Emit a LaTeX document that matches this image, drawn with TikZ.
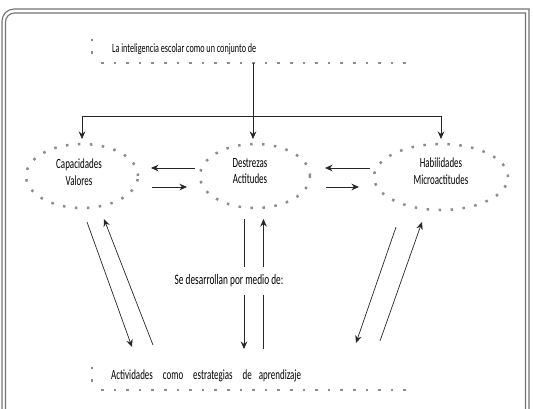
\documentclass[tikz,border=0pt]{standalone}
\usepackage{fontspec}
\setmainfont{Carlito}[FakeStretch=0.64]
\usetikzlibrary{shapes.geometric,arrows.meta}
\begin{document}
\begin{tikzpicture}[x=1pt,y=-1pt,
  frameline/.style={draw=black!55,line width=1.1pt},
  dotline/.style={draw=black!45,line width=2.5pt,dash pattern=on 2.5pt off 10.1pt},
  dotell/.style={ellipse,draw=black!45,line width=2.5pt,dash pattern=on 2.5pt off 9.5pt,inner sep=0pt},
  lbl/.style={font=\fontsize{14}{15.5}\selectfont,align=center,inner sep=0pt},
  conn/.style={draw=black!85,line width=0.7pt},
  arr/.style={conn,-{Stealth[length=7.5pt,width=6.5pt]}},
  cdot/.style={fill=black!45,minimum size=2.5pt,inner sep=0pt}
]
\useasboundingbox (0,0) rectangle (533,408);
% frame
\draw[frameline] (2,410) -- (2,21) .. controls (2,14.4) and (7.4,9) .. (14,9) -- (529,9) -- (529,410);
\draw[frameline] (5.5,410) -- (5.5,22) .. controls (5.5,17) and (9.5,13) .. (14.5,13) -- (525.5,13) -- (525.5,410);

% title
\node[cdot] (c1) at (92,40) {};
\node[cdot] (c2) at (92,52.5) {};
\node[lbl,font=\fontsize{12.7}{15}\selectfont,anchor=west] (title) at (112,49) {La inteligencia escolar como un conjunto de};
\coordinate (tl1) at (101,63);
\coordinate (tl2) at (406,63);
\draw[dotline] (tl1) -- (tl2);

% ellipses
\node[dotell,minimum width=112pt,minimum height=64pt] (cap) at (82,176) {};
\node[dotell,minimum width=110pt,minimum height=64pt] (des) at (255,176) {};
\node[dotell,minimum width=134pt,minimum height=66pt] (hab) at (441,177) {};
\node[lbl] (capt) at (79,172) {Capacidades\\[1pt]Valores};
\node[lbl] (dest) at (250,171) {Destrezas\\[1pt]Actitudes};
\node[lbl] (habt) at (441,171) {Habilidades\\[1pt]Microactitudes};

% top connectors
\coordinate (top) at (253,63);
\coordinate (split) at (253,116);
\coordinate (sl) at (82,116);
\coordinate (sr) at (441,116);
\coordinate (tc) at (253,139);
\coordinate (tlft) at (82,139);
\coordinate (trgt) at (441,139);
\draw[arr] (top) -- (tc);
\draw[conn] (sl) -- (sr);
\draw[arr] (sl) -- (tlft);
\draw[arr] (sr) -- (trgt);

% horizontal arrows
\coordinate (h1a) at (195,168); \coordinate (h1b) at (151,168);
\coordinate (h2a) at (152,187); \coordinate (h2b) at (187,187);
\coordinate (h3a) at (370,168); \coordinate (h3b) at (325,168);
\coordinate (h4a) at (326,187); \coordinate (h4b) at (359,187);
\draw[arr] (h1a) -- (h1b);
\draw[arr] (h2a) -- (h2b);
\draw[arr] (h3a) -- (h3b);
\draw[arr] (h4a) -- (h4b);

% diagonal / vertical arrows
\coordinate (d1a) at (87,222); \coordinate (d1b) at (132,347);
\coordinate (d2a) at (153,345); \coordinate (d2b) at (104,219);
\coordinate (m1a) at (244,219); \coordinate (m1b) at (244,349);
\coordinate (m2a) at (263.5,349); \coordinate (m2b) at (263.5,219);
\coordinate (r1a) at (396,227); \coordinate (r1b) at (356,343);
\coordinate (r2a) at (380,341); \coordinate (r2b) at (422,222);
\draw[arr] (d1a) -- (d1b);
\draw[arr] (d2a) -- (d2b);
\draw[arr] (m1a) -- (m1b);
\draw[arr] (m2a) -- (m2b);
\draw[arr] (r1a) -- (r1b);
\draw[arr] (r2a) -- (r2b);
\node[lbl,font=\fontsize{14.5}{16}\selectfont,fill=white,minimum height=28pt,inner xsep=2pt] (mid) at (229,281) {Se desarrollan por medio de:};

% bottom
\node[cdot] (c3) at (92,368) {};
\node[cdot] (c4) at (92,380.5) {};
\node[lbl,anchor=west] (act) at (111,376) {Actividades\hspace{10pt}como\hspace{10pt}estrategias\hspace{10pt}de\hspace{7pt}aprendizaje};
\coordinate (bl1) at (101,390);
\coordinate (bl2) at (406,390);
\draw[dotline] (bl1) -- (bl2);
\end{tikzpicture}
\end{document}
